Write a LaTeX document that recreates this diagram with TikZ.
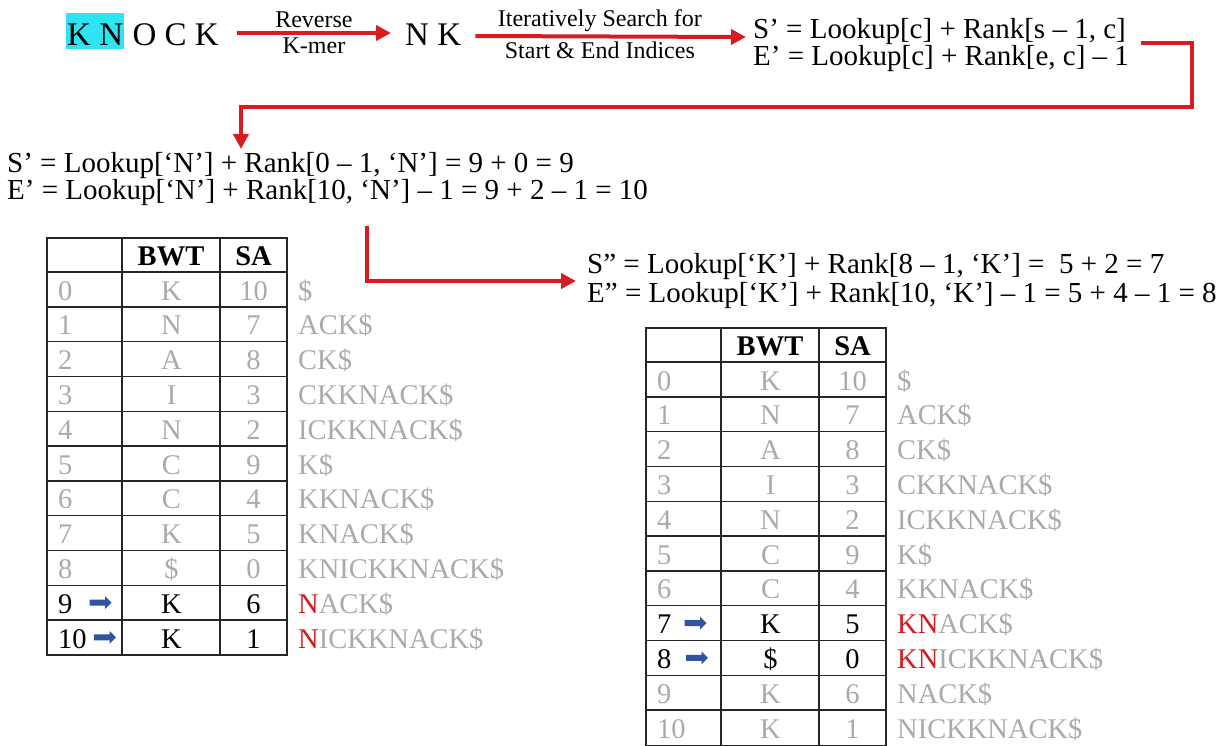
\documentclass[tikz,border=0pt]{standalone}
\usepackage{fontspec}
\setmainfont{Liberation Serif}
\usetikzlibrary{arrows.meta,shapes.arrows}

\definecolor{flowred}{RGB}{215,28,32}
\definecolor{hlcyan}{RGB}{45,228,242}
\definecolor{dimtext}{RGB}{170,170,170}
\definecolor{markred}{RGB}{215,25,30}
\definecolor{ptrblue}{RGB}{47,85,160}

\begin{document}
\begin{tikzpicture}[x=1pt,y=-1pt,
  flow/.style={draw=flowred, line width=4pt, -{Triangle[length=15pt,width=15pt]}},
  bigtxt/.style={font=\fontsize{33}{38}\selectfont, inner sep=0pt},
  eqtxt/.style={font=\fontsize{29}{34}\selectfont, inner sep=0pt, anchor=base west},
  labtxt/.style={font=\fontsize{24}{27}\selectfont, inner sep=3pt},
  celltxt/.style={font=\fontsize{28.5}{33}\selectfont, inner sep=0pt, anchor=base},
  dim/.style={text=dimtext},
  act/.style={text=black},
  grid/.style={draw=black!85, line width=1.4pt},
  ptr/.style={single arrow, fill=ptrblue, draw=none, inner sep=2.8pt,
    minimum height=22pt, single arrow head extend=3.4pt, single arrow head indent=0pt}
]
\useasboundingbox (0,0) rectangle (1227,745);

% ---- top row: k-mer, reversed k-mer, general update rule ----
\node[bigtxt, fill=hlcyan, inner xsep=1pt, inner ysep=4pt, text height=28pt, text depth=0pt,
  anchor=base west] (kn) at (66,45) {K N};
\node[bigtxt, anchor=base west] (ock) at ([xshift=8pt]kn.base east) {O C K};
\node[bigtxt, anchor=base west] (nk) at (405,45) {N K};
\node[eqtxt] (f1s) at (753,38) {S’ = Lookup[c] + Rank[s – 1, c]};
\node[eqtxt] (f1e) at (753,65) {E’ = Lookup[c] + Rank[e, c] – 1};

\draw[flow] ([xshift=18pt,yshift=12pt]ock.base east) -- ([xshift=-14pt,yshift=12pt]nk.base west)
  node[midway, above, labtxt] (l1a) {Reverse}
  node[midway, below, labtxt] (l1b) {K-mer};
\draw[flow] ([xshift=14pt,yshift=9pt]nk.base east) -- ([xshift=-7pt,yshift=1pt]f1s.base west)
  node[pos=0.46, above, labtxt] (l2a) {Iteratively Search for}
  node[pos=0.46, below, labtxt] (l2b) {Start \& End Indices};

% ---- first step: character N ----
\node[eqtxt] (f2s) at (7,172) {S’ = Lookup[‘N’] + Rank[0 – 1, ‘N’] = 9 + 0 = 9};
\node[eqtxt] (f2e) at (7,199) {E’ = Lookup[‘N’] + Rank[10, ‘N’] – 1 = 9 + 2 – 1 = 10};

\coordinate (bend1) at (1192,107);
\coordinate (f2in) at (241,149);
\draw[flow] ([xshift=12pt,yshift=22pt]f1e.base east) -| (bend1) -| (f2in);

% ---- second step: character K ----
\node[eqtxt] (f3s) at (587,273) {S” = Lookup[‘K’] + Rank[8 – 1, ‘K’] = \ 5 + 2 = 7};
\node[eqtxt] (f3e) at (587,302) {E” = Lookup[‘K’] + Rank[10, ‘K’] – 1 = 5 + 4 – 1 = 8};

\coordinate (p2start) at (367,226);
\coordinate (f3in) at (576,281);
\draw[flow] (p2start) |- (f3in);

% ---- BWT / SA tables ----
\newcommand\bwtgrid[1]{%
  \draw[grid] (0,0) rectangle (240,#1);
  \draw[grid] (75,0) -- (75,#1) (173,0) -- (173,#1);
  \foreach \k in {0,...,10} {\draw[grid] (0,{34+34.8*\k}) -- (240,{34+34.8*\k});}
  \node[celltxt, font=\fontsize{28.5}{33}\bfseries] (\tabname-hb) at (124,27) {BWT};
  \node[celltxt, font=\fontsize{28.5}{33}\bfseries] (\tabname-hs) at (206.5,27) {SA};
}
\newcommand\bwtrow[5]{% index, bwt, sa, suffix, style
  \node[celltxt, #5, anchor=base west] (\tabname-#1-n) at (11,{34+34.8*#1+28}) {#1};
  \node[celltxt, #5] (\tabname-#1-b) at (124.5,{34+34.8*#1+28}) {#2};
  \node[celltxt, #5] (\tabname-#1-s) at (206.5,{34+34.8*#1+28}) {#3};
  \node[celltxt, dim, anchor=base west] (\tabname-#1-x) at (251,{34+34.8*#1+28}) {#4};
}

\begin{scope}[shift={(47,238)}]
  \def\tabname{ta}
  \bwtgrid{416.8}
  \bwtrow{0}{K}{10}{\$}{dim}
  \bwtrow{1}{N}{7}{ACK\$}{dim}
  \bwtrow{2}{A}{8}{CK\$}{dim}
  \bwtrow{3}{I}{3}{CKKNACK\$}{dim}
  \bwtrow{4}{N}{2}{ICKKNACK\$}{dim}
  \bwtrow{5}{C}{9}{K\$}{dim}
  \bwtrow{6}{C}{4}{KKNACK\$}{dim}
  \bwtrow{7}{K}{5}{KNACK\$}{dim}
  \bwtrow{8}{\$}{0}{KNICKKNACK\$}{dim}
  \bwtrow{9}{K}{6}{{\color{markred}N}ACK\$}{act}
  \bwtrow{10}{K}{1}{{\color{markred}N}ICKKNACK\$}{act}
  \node[ptr] (ta-9-p) at (52,{34+34.8*9+17.4}) {};
  \node[ptr] (ta-10-p) at (56.5,{34+34.8*10+17.4}) {};
\end{scope}

\begin{scope}[shift={(646,328)}]
  \def\tabname{tb}
  \bwtgrid{418}
  \bwtrow{0}{K}{10}{\$}{dim}
  \bwtrow{1}{N}{7}{ACK\$}{dim}
  \bwtrow{2}{A}{8}{CK\$}{dim}
  \bwtrow{3}{I}{3}{CKKNACK\$}{dim}
  \bwtrow{4}{N}{2}{ICKKNACK\$}{dim}
  \bwtrow{5}{C}{9}{K\$}{dim}
  \bwtrow{6}{C}{4}{KKNACK\$}{dim}
  \bwtrow{7}{K}{5}{{\color{markred}KN}ACK\$}{act}
  \bwtrow{8}{\$}{0}{{\color{markred}KN}ICKKNACK\$}{act}
  \bwtrow{9}{K}{6}{NACK\$}{dim}
  \bwtrow{10}{K}{1}{NICKKNACK\$}{dim}
  \node[ptr] (tb-7-p) at (48,{34+34.8*7+17.4}) {};
  \node[ptr] (tb-8-p) at (49.5,{34+34.8*8+17.4}) {};
\end{scope}
\end{tikzpicture}
\end{document}
